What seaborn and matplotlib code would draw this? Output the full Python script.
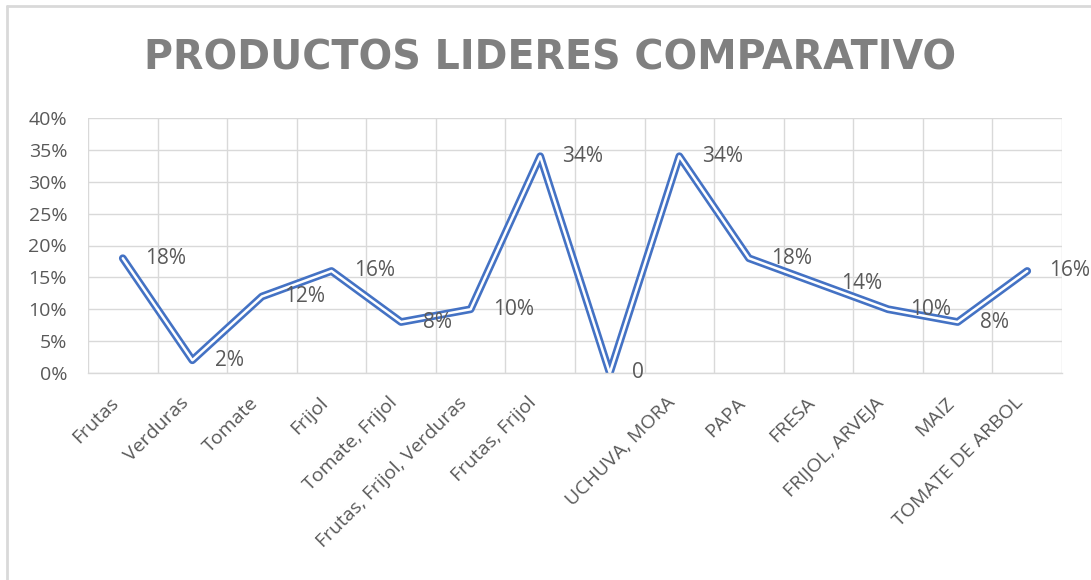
import numpy as np
import seaborn as sns
import matplotlib.pyplot as plt
from matplotlib.lines import Line2D
from matplotlib.transforms import ScaledTranslation
from matplotlib.ticker import MultipleLocator, PercentFormatter

# Chart data
categorias = ['Frutas', 'Verduras', 'Tomate', 'Frijol', 'Tomate, Frijol',
              'Frutas, Frijol, Verduras', 'Frutas, Frijol', '',
              'UCHUVA, MORA', 'PAPA', 'FRESA', 'FRIJOL, ARVEJA', 'MAIZ',
              'TOMATE DE ARBOL']
valores = [0.18, 0.02, 0.12, 0.16, 0.08, 0.10, 0.34, 0.0,
           0.34, 0.18, 0.14, 0.10, 0.08, 0.16]

azul = '#4472C4'
gris = '#595959'
grid_col = '#D9D9D9'

sns.set_theme(style='white')
plt.rcParams['font.family'] = ['Open Sans', 'DejaVu Sans']

fig = plt.figure(figsize=(10.91, 5.80), dpi=100)
ax = fig.add_axes([88 / 1091, 1 - 373 / 580, (1062 - 88) / 1091, (373 - 118) / 580])

x = np.arange(len(categorias))

# Excel "double" line: thick blue stroke with a thin white core
sns.lineplot(x=x, y=valores, ax=ax, color=azul, linewidth=5.6, legend=False)
sns.lineplot(x=x, y=valores, ax=ax, color='white', linewidth=1.8, legend=False)

# Data labels to the right of each point
for xi, v in zip(x, valores):
    txt = '0' if v == 0 else f'{v:.0%}'
    ax.annotate(txt, xy=(xi, v), xytext=(16, 0), textcoords='offset points',
                ha='left', va='center', fontsize=15, color=gris)

ax.set_xlim(-0.5, len(categorias) - 0.5)
ax.set_ylim(0, 0.40)
ax.yaxis.set_major_locator(MultipleLocator(0.05))
ax.yaxis.set_major_formatter(PercentFormatter(1.0, decimals=0))

ax.set_xticks(x)
ax.set_xticklabels(categorias, rotation=45, ha='right', rotation_mode='anchor',
                   fontsize=14, color=gris)
ax.set_xticks(np.arange(-0.5, len(categorias), 1), minor=True)
ax.tick_params(axis='x', which='both', length=0, pad=15)
ax.tick_params(axis='y', length=0, labelsize=14, labelcolor=gris, pad=15)

# nudge rotated labels slightly left like Excel does
shift = ScaledTranslation(-0.13, 0, fig.dpi_scale_trans)
for lab in ax.get_xticklabels():
    lab.set_transform(lab.get_transform() + shift)

ax.grid(True, axis='y', which='major', color=grid_col, linewidth=1)
ax.grid(True, axis='x', which='minor', color=grid_col, linewidth=1)
ax.grid(False, axis='x', which='major')
ax.set_axisbelow(True)

for side in ['left', 'right', 'top']:
    ax.spines[side].set_visible(False)
ax.spines['bottom'].set_color(grid_col)
ax.spines['bottom'].set_linewidth(1)

fig.text(550 / 1091, 1 - 58 / 580, 'PRODUCTOS LIDERES COMPARATIVO',
         ha='center', va='center', fontsize=28.5, fontweight='bold', color='#808080',
         family=['DejaVu Sans'])

# Chart frame (top and left edges visible)
fig.add_artist(Line2D([7 / 1091, 1], [1 - 6 / 580, 1 - 6 / 580],
                      transform=fig.transFigure, color=grid_col, linewidth=2))
fig.add_artist(Line2D([7 / 1091, 7 / 1091], [0, 1 - 6 / 580],
                      transform=fig.transFigure, color=grid_col, linewidth=2))

fig.savefig('out.png', dpi=100, facecolor='white')
